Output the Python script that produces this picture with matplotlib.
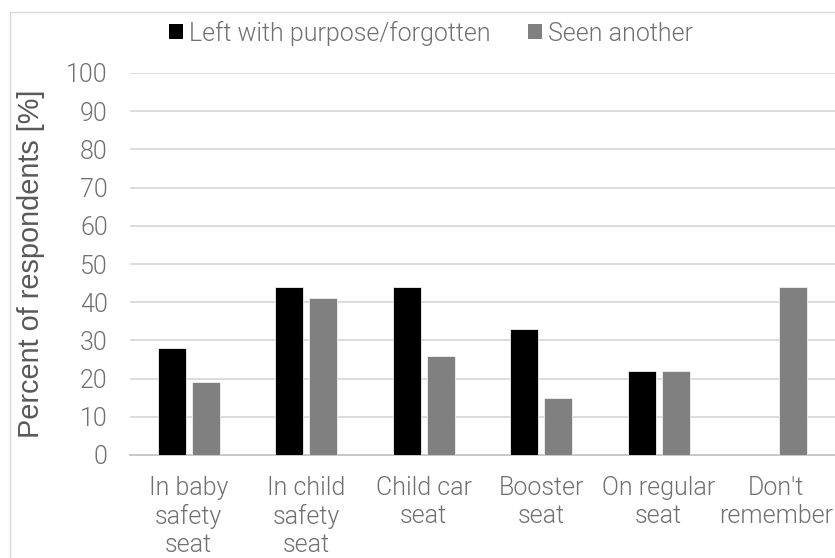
import matplotlib
matplotlib.use("Agg")
import matplotlib.pyplot as plt
from matplotlib import font_manager
from matplotlib.patches import Patch, Rectangle
import numpy as np

categories = ["In baby\nsafety\nseat", "In child\nsafety\nseat", "Child car\nseat",
              "Booster\nseat", "On regular\nseat", "Don't\nremember"]
left_forgotten = [28, 44, 44, 33, 22, 0]
seen_another = [19, 41, 26, 15, 22, 44]
series_names = ["Left with purpose/forgotten", "Seen another"]
y_ticks = [0, 10, 20, 30, 40, 50, 60, 70, 80, 90, 100]

# pick a light sans face if one is installed
light_family = "DejaVu Sans"
light_weight = "normal"
for fam in ["Roboto", "Lato", "Open Sans", "Inter", "Noto Sans"]:
    for f in font_manager.fontManager.ttflist:
        if f.name == fam and f.weight in (200, 300, "light", "extra-light") and f.style == "normal":
            light_family, light_weight = fam, f.weight
            break
    if light_family != "DejaVu Sans":
        break

text_gray = "#595959"
tick_gray = "#707070"
grid_gray = "#d9d9d9"

fig = plt.figure(figsize=(8.35, 5.58), dpi=100)
ax = fig.add_axes([130 / 835, 1 - 455 / 558, 705 / 835, (455 - 73) / 558])

x = np.arange(len(categories))
w = 0.238
off = 0.145
black = [v if v > 0 else np.nan for v in left_forgotten]
ax.bar(x - off, black, width=w, color="#000000", edgecolor="#f0f0f0", linewidth=0.6, zorder=3)
ax.bar(x + off, seen_another, width=w, color="#808080", edgecolor="#f0f0f0", linewidth=0.6, zorder=3)

ax.set_xlim(-0.5, len(categories) - 0.5)
ax.set_ylim(0, 100)
ax.set_yticks(y_ticks)
ax.yaxis.grid(True, color=grid_gray, linewidth=1.3, zorder=0)
ax.set_axisbelow(True)
for s in ["top", "right", "left"]:
    ax.spines[s].set_visible(False)
ax.spines["bottom"].set_color("#c8c8c8")
ax.spines["bottom"].set_linewidth(1.4)

ax.tick_params(axis="y", length=0, pad=16, labelsize=18, labelcolor=tick_gray)
ax.tick_params(axis="x", length=0, pad=15, labelsize=18, labelcolor=tick_gray)
ax.set_xticks(x)
ax.set_xticklabels(categories, linespacing=1.22, va="top")
for lab in ax.get_xticklabels() + ax.get_yticklabels():
    lab.set_family(light_family)
    lab.set_weight(light_weight)

ax.set_ylabel("Percent of respondents [%]", fontsize=20.8, color=text_gray,
              family="Liberation Sans")
ax.yaxis.set_label_coords(-(130 - 45) / 705, 0.5)

handles = [Patch(facecolor="#000000"), Patch(facecolor="#808080")]
leg = fig.legend(handles, series_names, loc="center",
                 bbox_to_anchor=(431 / 835, 1 - 33 / 558), ncol=2, frameon=False,
                 handlelength=0.55, handleheight=0.55, handletextpad=0.25,
                 columnspacing=1.5,
                 prop={"family": light_family, "weight": light_weight, "size": 18})
for t in leg.get_texts():
    t.set_color(tick_gray)

fig.patches.append(Rectangle((10 / 835, -0.1), 1.2, 1 - 12 / 558 + 0.1,
                             transform=fig.transFigure, fill=False,
                             edgecolor=grid_gray, linewidth=1.0))

fig.savefig("out.png", dpi=100)
